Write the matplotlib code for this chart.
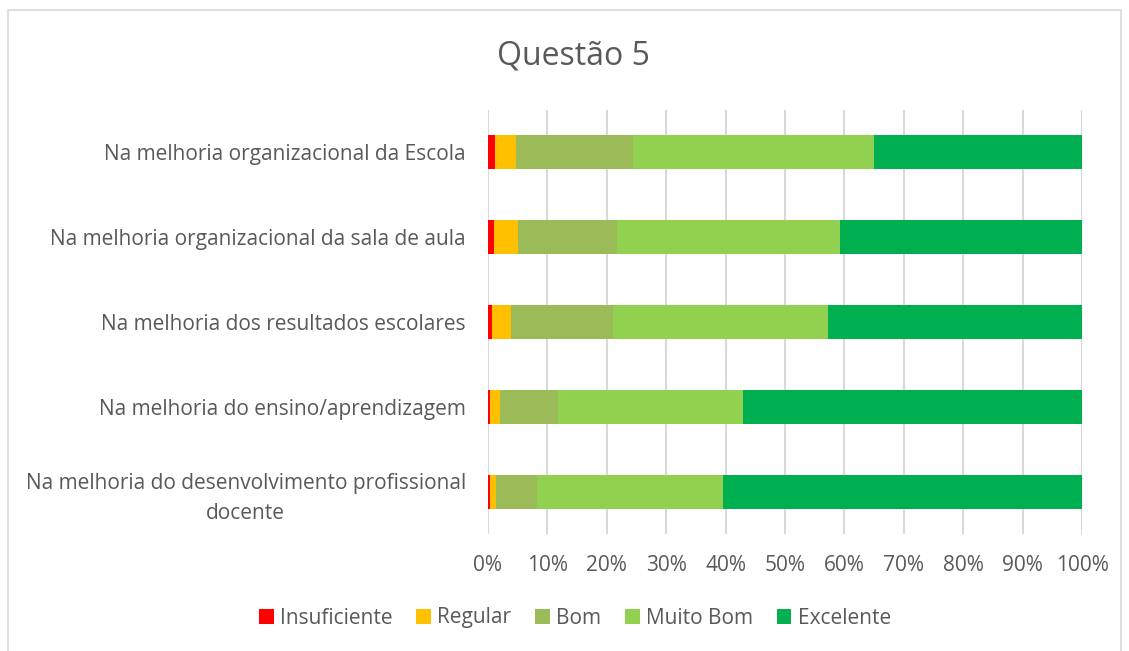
import matplotlib.pyplot as plt
from matplotlib.patches import Rectangle
from matplotlib.ticker import PercentFormatter

plt.rcParams['font.family'] = ['Open Sans', 'DejaVu Sans']

# categorias (de cima para baixo)
categorias = [
    'Na melhoria organizacional da Escola',
    'Na melhoria organizacional da sala de aula',
    'Na melhoria dos resultados escolares',
    'Na melhoria do ensino/aprendizagem',
    'Na melhoria do desenvolvimento profissional\ndocente',
]
series = ['Insuficiente', 'Regular', 'Bom', 'Muito Bom', 'Excelente']
cores = ['#FF0000', '#FFC000', '#9BBB59', '#92D050', '#00B050']

insuficiente = [1.2, 1.0, 0.7, 0.3, 0.3]
regular = [3.5, 4.0, 3.1, 1.8, 1.1]
bom = [19.7, 16.8, 17.3, 9.7, 6.9]
muito_bom = [40.6, 37.4, 36.2, 31.2, 31.2]
excelente = [35.0, 40.8, 42.7, 57.0, 60.5]
valores = [insuficiente, regular, bom, muito_bom, excelente]

CINZA = '#595959'

fig = plt.figure(figsize=(11.29, 6.51), dpi=100)
fig.patches.append(Rectangle((8 / 1129, -0.01), (1121 - 8) / 1129, (651 - 10) / 651 + 0.01,
                             transform=fig.transFigure, fill=False,
                             edgecolor='#D9D9D9', linewidth=1.2))
ax = fig.add_axes([488 / 1129, (651 - 534) / 651, (1082 - 488) / 1129, (534 - 110) / 651])

y = list(range(len(categorias)))
esquerda = [0.0] * len(categorias)
for nome, vals, cor in zip(series, valores, cores):
    ax.barh(y, vals, left=esquerda, height=0.4, color=cor, label=nome, zorder=3)
    esquerda = [a + b for a, b in zip(esquerda, vals)]

ax.set_ylim(len(categorias) - 0.5, -0.5)
ax.set_xlim(0, 100)
ax.set_xticks(range(0, 101, 10))
ax.xaxis.set_major_formatter(PercentFormatter(decimals=0))
ax.set_yticks(y)
ax.set_yticklabels(categorias, multialignment='center', linespacing=1.55)
ax.tick_params(axis='both', length=0, labelsize=15, colors=CINZA)
ax.tick_params(axis='y', pad=16)
ax.tick_params(axis='x', pad=15)
ax.grid(axis='x', color='#D9D9D9', linewidth=1.5, zorder=0)
for s in ax.spines.values():
    s.set_visible(False)

fig.text(573 / 1129, 1 - 56 / 651, 'Questão 5', ha='center', va='center',
         fontsize=23, color=CINZA)

fig.legend(loc='center', bbox_to_anchor=(575 / 1129, 1 - 618 / 651), ncol=5,
           frameon=False, fontsize=15, labelcolor=CINZA,
           handlelength=0.7, handleheight=0.7, handletextpad=0.3, columnspacing=1.15)

fig.savefig('out.png', dpi=100)
